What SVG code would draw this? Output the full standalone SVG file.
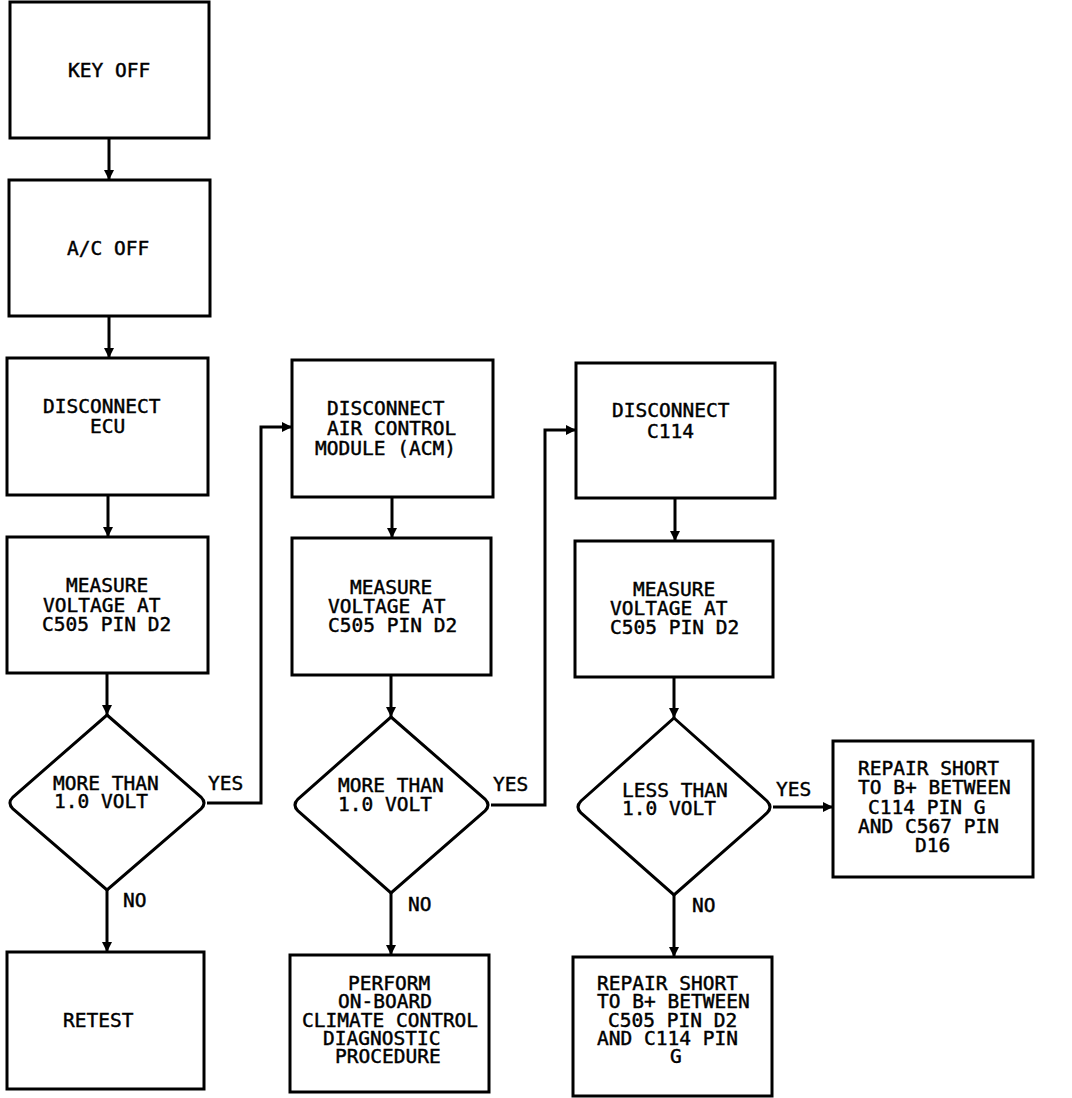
<svg xmlns="http://www.w3.org/2000/svg" width="1072" height="1098" viewBox="0 0 1072 1098">
<style>
.box{fill:none;stroke:#000;stroke-width:3}
.c{fill:none;stroke:#000;stroke-width:3}
text{font-family:"DejaVu Sans Mono","Liberation Mono",monospace;font-size:19.5px;fill:#000;stroke:#000;stroke-width:0.45}
</style>
<defs>
<marker id="ah" markerWidth="10" markerHeight="10" refX="10" refY="5" orient="auto" markerUnits="userSpaceOnUse">
<path d="M0,0 L10,5 L0,10 Z" fill="#000"/>
</marker>
</defs>
<rect width="1072" height="1098" fill="#fff"/>
<g id="connectors">
<path class="c" d="M109,138 V180" marker-end="url(#ah)"/>
<path class="c" d="M109,316 V358" marker-end="url(#ah)"/>
<path class="c" d="M108,495 V537" marker-end="url(#ah)"/>
<path class="c" d="M107,673 V715" marker-end="url(#ah)"/>
<path class="c" d="M107,890 V952" marker-end="url(#ah)"/>
<path class="c" d="M207,803 H261 V427 H292" marker-end="url(#ah)"/>
<path class="c" d="M392,497 V538" marker-end="url(#ah)"/>
<path class="c" d="M391,675 V717" marker-end="url(#ah)"/>
<path class="c" d="M391,893 V955" marker-end="url(#ah)"/>
<path class="c" d="M491,805 H545 V430 H576" marker-end="url(#ah)"/>
<path class="c" d="M675,498 V541" marker-end="url(#ah)"/>
<path class="c" d="M674,677 V718" marker-end="url(#ah)"/>
<path class="c" d="M674,895 V957" marker-end="url(#ah)"/>
<path class="c" d="M773,807 H833" marker-end="url(#ah)"/>
<text x="208" y="790">YES</text>
<text x="123" y="907">NO</text>
<text x="493" y="791">YES</text>
<text x="408" y="911">NO</text>
<text x="776" y="796">YES</text>
<text x="692" y="912">NO</text>
</g>
<g id="n1"><rect class="box" x="10" y="2" width="199" height="136"/><text x="68" y="77">KEY OFF</text></g>
<g id="n2"><rect class="box" x="9" y="180" width="201" height="136"/><text x="67" y="255">A/C OFF</text></g>
<g id="n3"><rect class="box" x="7" y="358" width="201" height="137"/><text><tspan x="43" y="413">DISCONNECT</tspan><tspan x="90" y="433">ECU</tspan></text></g>
<g id="n4"><rect class="box" x="7" y="537" width="201" height="136"/><text><tspan x="66" y="592">MEASURE</tspan><tspan x="43" y="612">VOLTAGE AT</tspan><tspan x="42" y="631">C505 PIN D2</tspan></text></g>
<g id="n5"><path class="box" d="M107,715 L201,797 Q207,803 201,809 L107,890 L13,809 Q7,803 13,797 Z"/><text><tspan x="53" y="790">MORE THAN</tspan><tspan x="54" y="808">1.0 VOLT</tspan></text></g>
<g id="n6"><rect class="box" x="7" y="952" width="197" height="137"/><text x="63" y="1027">RETEST</text></g>
<g id="n7"><rect class="box" x="292" y="360" width="201" height="137"/><text><tspan x="327" y="415">DISCONNECT</tspan><tspan x="327" y="435">AIR CONTROL</tspan><tspan x="315" y="455">MODULE (ACM)</tspan></text></g>
<g id="n8"><rect class="box" x="292" y="538" width="199" height="137"/><text><tspan x="350" y="594">MEASURE</tspan><tspan x="328" y="613">VOLTAGE AT</tspan><tspan x="328" y="632">C505 PIN D2</tspan></text></g>
<g id="n9"><path class="box" d="M391,717 L485,799 Q491,805 485,811 L391,893 L298,811 Q292,805 298,799 Z"/><text><tspan x="338" y="792">MORE THAN</tspan><tspan x="338" y="811">1.0 VOLT</tspan></text></g>
<g id="n10"><rect class="box" x="290" y="955" width="199" height="137"/><text><tspan x="348" y="990">PERFORM</tspan><tspan x="338" y="1008">ON-BOARD</tspan><tspan x="302" y="1027">CLIMATE CONTROL</tspan><tspan x="323" y="1045">DIAGNOSTIC</tspan><tspan x="335" y="1063">PROCEDURE</tspan></text></g>
<g id="n11"><rect class="box" x="576" y="363" width="199" height="135"/><text><tspan x="612" y="417">DISCONNECT</tspan><tspan x="647" y="438">C114</tspan></text></g>
<g id="n12"><rect class="box" x="575" y="541" width="198" height="136"/><text><tspan x="633" y="596">MEASURE</tspan><tspan x="610" y="615">VOLTAGE AT</tspan><tspan x="610" y="634">C505 PIN D2</tspan></text></g>
<g id="n13"><path class="box" d="M674,718 L767,801 Q773,807 767,813 L674,895 L581,813 Q575,807 581,801 Z"/><text><tspan x="622" y="797">LESS THAN</tspan><tspan x="622" y="815">1.0 VOLT</tspan></text></g>
<g id="n14"><rect class="box" x="573" y="957" width="199" height="139"/><text><tspan x="597" y="990">REPAIR SHORT</tspan><tspan x="597" y="1008">TO B+ BETWEEN</tspan><tspan x="608" y="1027">C505 PIN D2</tspan><tspan x="597" y="1045">AND C114 PIN</tspan><tspan x="670" y="1063">G</tspan></text></g>
<g id="n15"><rect class="box" x="833" y="741" width="200" height="136"/><text><tspan x="858" y="775">REPAIR SHORT</tspan><tspan x="858" y="794">TO B+ BETWEEN</tspan><tspan x="868" y="814">C114 PIN G</tspan><tspan x="858" y="833">AND C567 PIN</tspan><tspan x="915" y="852">D16</tspan></text></g>
</svg>
